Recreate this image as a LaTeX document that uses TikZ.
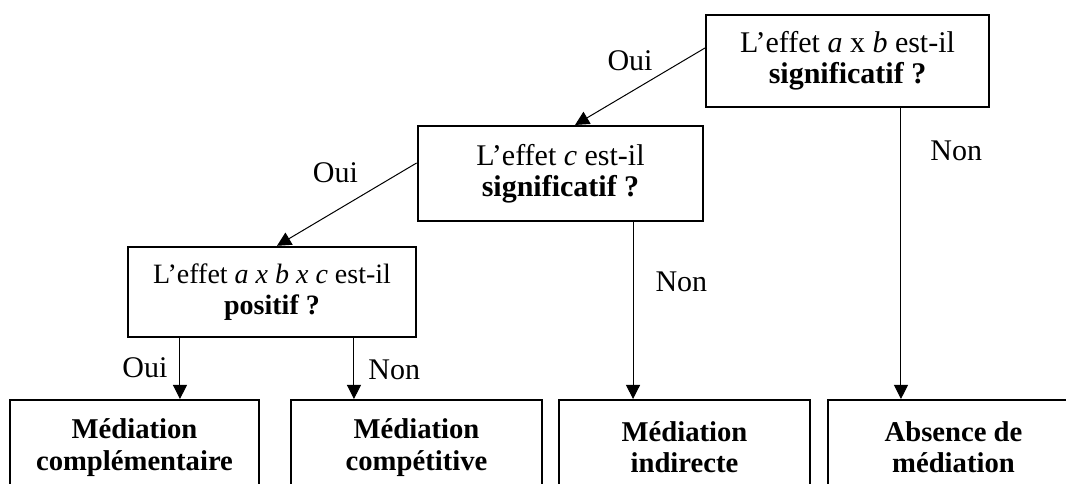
\documentclass[tikz,border=0pt]{standalone}
\usepackage{fontspec}
\setmainfont{Liberation Serif}
\usetikzlibrary{arrows.meta, positioning}
\tikzset{
  every picture/.style={line width=0.75pt},
  every node/.style={font=\fontsize{22.5pt}{23.5pt}\selectfont},
  box/.style={draw, line width=1.8pt, align=center, inner sep=0pt, minimum width=#1, minimum height=69pt},
  box/.default=213pt,
  result/.style={box=#1, minimum height=71pt, font=\fontsize{21.5pt}{23.5pt}\selectfont\bfseries},
  result/.default=188pt,
  arrow/.style={-{Triangle[length=10.5pt, width=10.5pt]}, line width=0.75pt},
  lbl/.style={inner sep=0pt},
}

\begin{document}
\begin{tikzpicture}[x=0.75pt, y=-0.75pt]
  \useasboundingbox (0,0) rectangle (1066,484);
  \clip (0,0) rectangle (1066,484);
  % questions
  \node[box=212pt] (q1) at (847.5,61) {L’effet \textit{a} x \textit{b} est-il\\\textbf{significatif ?}};
  \node[box=214pt, minimum height=71pt] (q2) at (560.5,173.5) {L’effet \textit{c} est-il\\\textbf{significatif ?}};
  \node[box=216pt, minimum height=67.5pt, font=\fontsize{21pt}{23.5pt}\selectfont] (q3) at (272,292) {L’effet \textit{a x b x c} est-il\\\textbf{positif ?}};
  % outcomes (cut by the bottom edge)
  \node[result=187pt] (r1) at (134.5,447.5) {Médiation\\complémentaire};
  \node[result] (r2) at (416.5,447.5) {Médiation\\compétitive};
  \node[result] (r3) at (684.5,447.5) {Médiation\\indirecte};
  \node[result] (r4) at (953.5,447.5) {Absence de\\médiation};
  % yes branches
  \draw[arrow] ([yshift=9.75pt]q1.west) -- ([xshift=10.9pt]q2.north)
    node[lbl, midway, xshift=-7.5pt, yshift=19.5pt] {Oui};
  \draw[arrow] ([yshift=7.9pt]q2.west) -- ([xshift=3.75pt]q3.north)
    node[lbl, midway, xshift=-8.6pt, yshift=23.6pt] {Oui};
  \draw[arrow] ([xshift=34.1pt]r1.north |- q3.south) -- ([xshift=34.1pt]r1.north)
    node[lbl, pos=0.49, left=9pt] {Oui};
  % no branches
  \draw[arrow] ([xshift=-46.9pt]r2.north |- q3.south) -- ([xshift=-46.9pt]r2.north)
    node[lbl, pos=0.52, right=10.5pt] {Non};
  \draw[arrow] ([xshift=54.4pt]q2.south) -- ([xshift=54.4pt]q2.south |- r3.north)
    node[lbl, pos=0.34, right=16.5pt] {Non};
  \draw[arrow] ([xshift=40.1pt]q1.south) -- ([xshift=40.1pt]q1.south |- r4.north)
    node[lbl, pos=0.147, right=21.75pt] {Non};
\end{tikzpicture}
\end{document}
